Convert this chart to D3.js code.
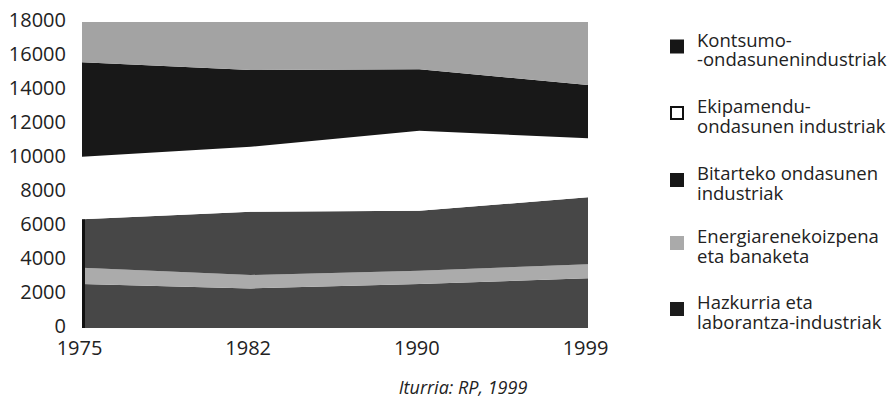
<!DOCTYPE html>
<html>
<head>
<meta charset="utf-8">
<script src="https://cdn.jsdelivr.net/npm/d3@7"></script>
<style>
  html, body { margin: 0; padding: 0; background: #fff; }
  svg { display: block; font-family: "Open Sans", "Noto Sans", sans-serif; }
</style>
</head>
<body>
<svg id="chart" width="895" height="398"></svg>
<script>
// ---- data ----
const years = ["1975", "1982", "1990", "1999"];
const hazkurria  = [2590, 2330, 2590, 2920];   // Hazkurria eta laborantza-industriak
const energia    = [960, 790, 780, 830];       // Energiarenekoizpena eta banaketa
const bitarteko  = [2840, 3720, 3530, 3940];   // Bitarteko ondasunen industriak
const ekipamendu = [3690, 3820, 4700, 3470];   // Ekipamendu-ondasunen industriak
const kontsumo   = [5550, 4520, 3620, 3130];   // Kontsumo-ondasunen industriak
const besteak    = [2370, 2820, 2780, 3710];   // top band (no legend entry)
const yTicks = [0, 2000, 4000, 6000, 8000, 10000, 12000, 14000, 16000, 18000];
const seriesKeys = ["hazkurria", "energia", "bitarteko", "ekipamendu", "kontsumo", "besteak"];
const seriesColors = ["#474747", "#ababab", "#474747", "#ffffff", "#181818", "#a3a3a3"];
const legendLines = [
  ["Kontsumo-", "-ondasunenindustriak"],
  ["Ekipamendu-", "ondasunen industriak"],
  ["Bitarteko ondasunen", "industriak"],
  ["Energiarenekoizpena", "eta banaketa"],
  ["Hazkurria eta", "laborantza-industriak"]
];
const legendFill = ["#161616", "#ffffff", "#161616", "#aaaaaa", "#1c1c1c"];
const sourceText = "Iturria: RP, 1999";

// ---- build table ----
const seriesValues = { hazkurria, energia, bitarteko, ekipamendu, kontsumo, besteak };
const table = years.map((y, i) => {
  const row = { year: y };
  seriesKeys.forEach(k => row[k] = seriesValues[k][i]);
  return row;
});

const svg = d3.select("#chart");
const x = d3.scalePoint().domain(years).range([82, 588]);
const y = d3.scaleLinear().domain([0, 18000]).range([328, 22]);

const stacked = d3.stack().keys(seriesKeys)(table);
const area = d3.area()
  .x(d => x(d.data.year))
  .y0(d => y(d[0]))
  .y1(d => y(d[1]));

svg.append("g").selectAll("path")
  .data(stacked)
  .join("path")
  .attr("d", area)
  .attr("fill", (d, i) => seriesColors[i])
  .attr("stroke", "none");

// dark left edge of the lower block
const bIdx = seriesKeys.indexOf("bitarteko");
svg.append("line")
  .attr("x1", x(years[0]) + 1.5).attr("x2", x(years[0]) + 1.5)
  .attr("y1", y(0)).attr("y2", y(stacked[bIdx][0][1]))
  .attr("stroke", "#111").attr("stroke-width", 3);

// y axis labels
const yAxis = d3.axisLeft(y).tickValues(yTicks).tickSize(0).tickPadding(0).tickFormat(d3.format("d"));
const gy = svg.append("g").attr("transform", "translate(66,-2)").call(yAxis);
gy.select(".domain").remove();
gy.selectAll("text").attr("font-size", 20).attr("fill", "#222")
  .attr("font-family", "'Open Sans', sans-serif");

// x axis labels
const xAxis = d3.axisBottom(x).tickSize(0).tickPadding(0);
const gx = svg.append("g").attr("transform", "translate(-3,341)").call(xAxis);
gx.select(".domain").remove();
gx.selectAll("text").attr("font-size", 20).attr("fill", "#222")
  .attr("font-family", "'Open Sans', sans-serif");

// source
svg.append("text")
  .attr("x", 463).attr("y", 394)
  .attr("text-anchor", "middle")
  .attr("font-size", 18).attr("font-style", "italic").attr("fill", "#222")
  .text(sourceText);

// legend
const legendY = [46.5, 113, 180, 243, 309];
const lg = svg.append("g");
legendLines.forEach((lines, i) => {
  const g = lg.append("g").attr("transform", `translate(670,${legendY[i]})`);
  const filled = legendFill[i] !== "#ffffff";
  g.append("rect")
    .attr("x", filled ? 0 : 1).attr("y", filled ? -7 : -6)
    .attr("width", filled ? 14 : 12).attr("height", filled ? 14 : 12)
    .attr("fill", legendFill[i])
    .attr("stroke", filled ? "none" : "#111")
    .attr("stroke-width", 2);
  const t = g.append("text").attr("x", 27).attr("y", 0)
    .attr("font-size", 18.5).attr("fill", "#222");
  lines.forEach((ln, j) => {
    t.append("tspan").attr("x", 27).attr("y", j * 19.5).text(ln);
  });
});
</script>
</body>
</html>
